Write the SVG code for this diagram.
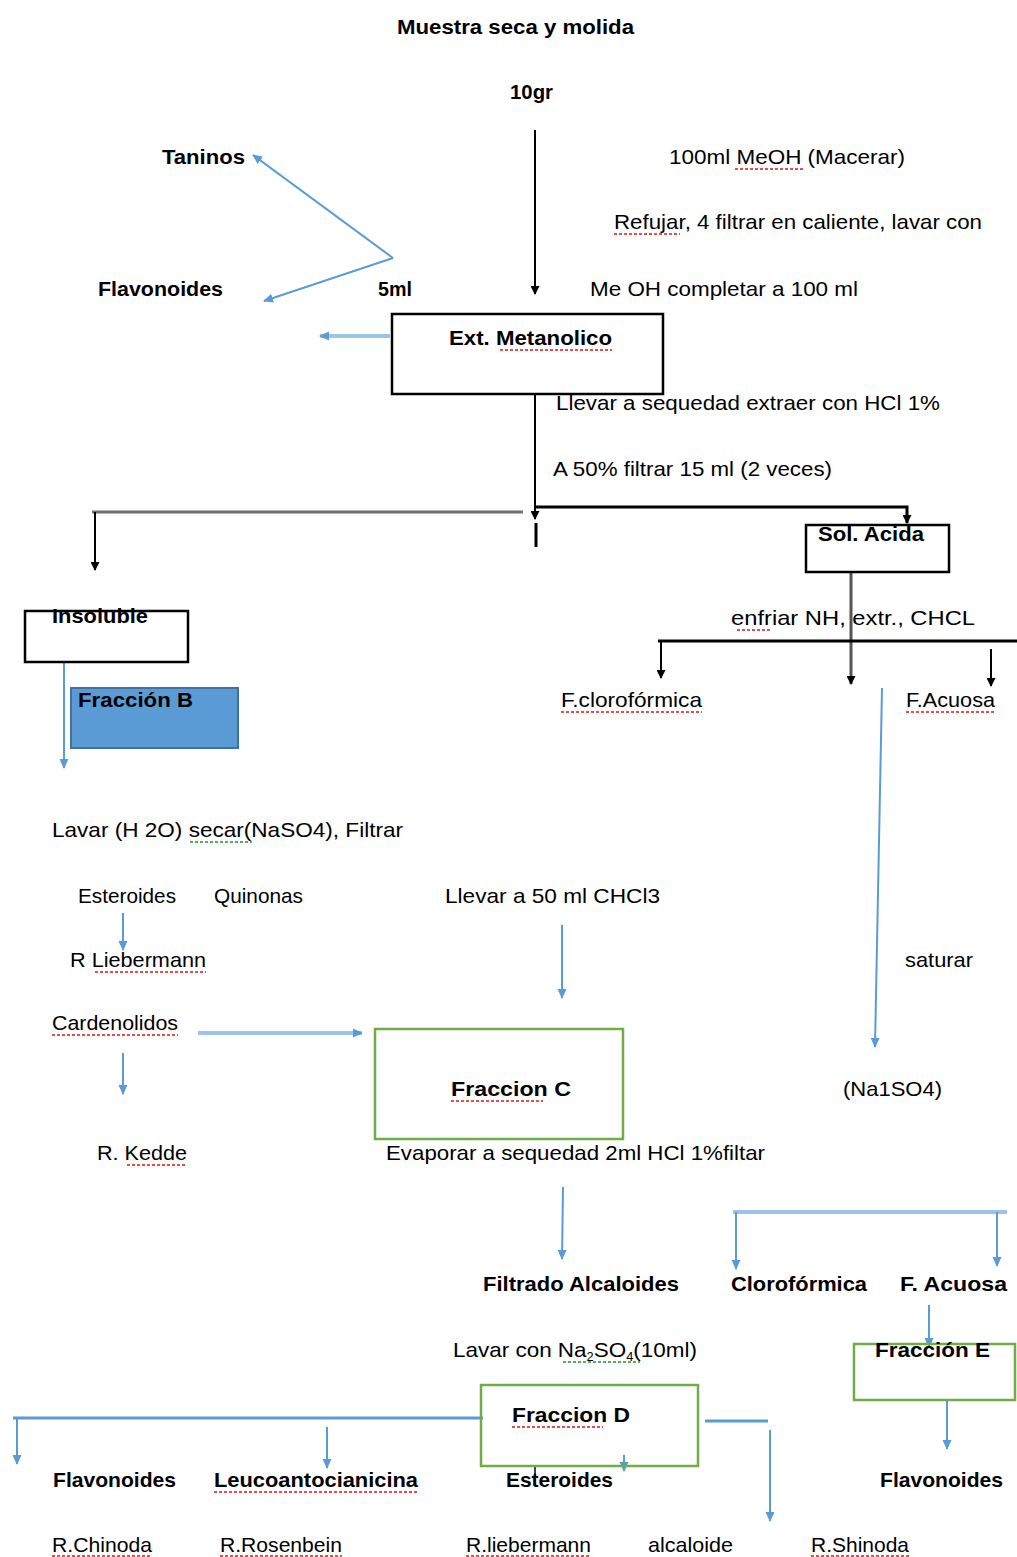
<svg xmlns="http://www.w3.org/2000/svg" width="1017" height="1557" viewBox="0 0 1017 1557">
<defs>
<marker id="ab" markerWidth="9" markerHeight="9" refX="8" refY="4.5" orient="auto" markerUnits="userSpaceOnUse"><path d="M0,0 L9,4.5 L0,9 Z" fill="#000"/></marker>
<marker id="au" markerWidth="10" markerHeight="10" refX="9" refY="5" orient="auto" markerUnits="userSpaceOnUse"><path d="M0,0.5 L10,5 L0,9.5 Z" fill="#5B9BD5"/></marker>
</defs>
<style>
text{font-family:"Liberation Sans",Arial,sans-serif;font-size:21px;fill:#000}
.bd{font-weight:bold}
.k{stroke:#000;fill:none;stroke-width:2}
.kt{stroke:#000;fill:none;stroke-width:3}
.b{stroke:#5B9BD5;fill:none;stroke-width:2}
.bt{stroke:#9DC3E6;fill:none;stroke-width:4}
.box{fill:#fff;stroke:#000;stroke-width:2.5}
.gbox{fill:none;stroke:#70AD47;stroke-width:2.5}
.sq{stroke:#E02020;stroke-width:2;fill:none;stroke-dasharray:3 2;opacity:.8}
.sg{stroke:#2E9A2E;stroke-width:2;fill:none;stroke-dasharray:3 2;opacity:.8}
</style>
<rect width="1017" height="1557" fill="#fff"/>

<g id="connectors">
<line class="k" x1="535" y1="130" x2="535" y2="294" marker-end="url(#ab)"/>
<line class="b" x1="393" y1="258" x2="253" y2="155" marker-end="url(#au)"/>
<line class="b" x1="393" y1="258" x2="264" y2="301" marker-end="url(#au)"/>
<line class="bt" x1="390" y1="336" x2="320" y2="336" marker-end="url(#au)"/>
<line class="k" x1="535" y1="394" x2="535" y2="519" marker-end="url(#ab)"/>
<line x1="536" y1="523" x2="536" y2="547" stroke="#000" stroke-width="3"/>
<line x1="92" y1="512" x2="523" y2="512" stroke="#707070" stroke-width="3"/>
<line class="k" x1="95" y1="512" x2="95" y2="570" marker-end="url(#ab)"/>
<polyline class="kt" points="535,507 907,507 907,523" marker-end="url(#ab)"/>
<line x1="851" y1="561" x2="851" y2="684" stroke="#555" stroke-width="3" marker-end="url(#ab)"/>
<line class="kt" x1="658" y1="641" x2="1017" y2="641"/>
<line class="k" x1="661" y1="641" x2="661" y2="678" marker-end="url(#ab)"/>
<line class="k" x1="991" y1="649" x2="991" y2="686" marker-end="url(#ab)"/>
<line class="b" x1="64" y1="658" x2="64" y2="768" marker-end="url(#au)"/>
<line class="b" x1="882" y1="688" x2="875" y2="1047" marker-end="url(#au)"/>
<line class="b" x1="123" y1="913" x2="123" y2="950" marker-end="url(#au)"/>
<line class="b" x1="562" y1="925" x2="562" y2="998" marker-end="url(#au)"/>
<line class="bt" x1="198" y1="1033" x2="362" y2="1033" marker-end="url(#au)"/>
<line class="b" x1="123" y1="1053" x2="123" y2="1094" marker-end="url(#au)"/>
<line class="b" x1="563" y1="1187" x2="562" y2="1259" marker-end="url(#au)"/>
<line x1="733" y1="1212" x2="1007" y2="1212" stroke="#9DC3E6" stroke-width="4"/>
<line class="b" x1="736" y1="1212" x2="736" y2="1269" marker-end="url(#au)"/>
<line class="b" x1="997" y1="1212" x2="997" y2="1266" marker-end="url(#au)"/>
<line class="b" x1="929" y1="1305" x2="929" y2="1347" marker-end="url(#au)"/>
<line class="b" x1="947" y1="1400" x2="947" y2="1449" marker-end="url(#au)"/>
<line x1="13" y1="1418" x2="483" y2="1418" stroke="#5B9BD5" stroke-width="3"/>
<line class="b" x1="17" y1="1418" x2="17" y2="1464" marker-end="url(#au)"/>
<line class="b" x1="327" y1="1427" x2="327" y2="1468" marker-end="url(#au)"/>
<line class="b" x1="624" y1="1455" x2="624" y2="1471" marker-end="url(#au)"/>
<line x1="535" y1="1466" x2="535" y2="1476" stroke="#000" stroke-width="1.5"/>
<line x1="705" y1="1421" x2="768" y2="1421" stroke="#5B9BD5" stroke-width="3"/>
<line class="b" x1="770" y1="1430" x2="770" y2="1521" marker-end="url(#au)"/>
</g>

<g id="n-muestra"><text class="bd" x="397" y="34" textLength="237" lengthAdjust="spacingAndGlyphs">Muestra  seca  y  molida</text></g>
<g id="n-10gr"><text class="bd" x="510" y="99" textLength="43" lengthAdjust="spacingAndGlyphs">10gr</text></g>
<g id="n-taninos"><text class="bd" x="162" y="164" textLength="83" lengthAdjust="spacingAndGlyphs">Taninos</text></g>
<g id="l-meoh"><text x="669" y="164" textLength="236" lengthAdjust="spacingAndGlyphs">100ml  MeOH  (Macerar)</text></g>
<g id="l-refujar"><text x="614" y="229" textLength="368" lengthAdjust="spacingAndGlyphs">Refujar, 4  filtrar  en  caliente,  lavar  con</text></g>
<g id="n-flavonoides1"><text class="bd" x="98" y="296" textLength="125" lengthAdjust="spacingAndGlyphs">Flavonoides</text></g>
<g id="l-5ml"><text class="bd" x="378" y="296" textLength="34" lengthAdjust="spacingAndGlyphs">5ml</text></g>
<g id="l-completar"><text x="590" y="296" textLength="268" lengthAdjust="spacingAndGlyphs">Me OH  completar  a  100  ml</text></g>
<g id="n-ext"><rect class="box" x="392" y="314" width="271" height="80"/><text class="bd" x="449" y="345" textLength="163" lengthAdjust="spacingAndGlyphs">Ext.  Metanolico</text></g>
<g id="l-llevar"><text x="556" y="410" textLength="384" lengthAdjust="spacingAndGlyphs">Llevar  a  sequedad  extraer  con  HCl  1%</text></g>
<g id="l-a50"><text x="553" y="476" textLength="279" lengthAdjust="spacingAndGlyphs">A 50%  filtrar  15  ml  (2  veces)</text></g>
<g id="n-sol"><rect class="box" x="806" y="525" width="143" height="47"/><text class="bd" x="818" y="541" textLength="106" lengthAdjust="spacingAndGlyphs">Sol.  Acida</text></g>
<g id="n-insoluble"><rect class="box" x="25" y="611" width="163" height="51"/><text class="bd" x="52" y="623" textLength="96" lengthAdjust="spacingAndGlyphs">Insoluble</text></g>
<g id="n-fraccionB"><rect x="71" y="688" width="167" height="60" fill="#5B9BD5" stroke="#41719C" stroke-width="2"/><text class="bd" x="78" y="707" textLength="115" lengthAdjust="spacingAndGlyphs">Fracción  B</text></g>
<g id="l-enfriar"><text x="731" y="625" textLength="244" lengthAdjust="spacingAndGlyphs">enfriar  NH,  extr.,  CHCL</text></g>
<g id="n-fcloro"><text x="561" y="707" textLength="141" lengthAdjust="spacingAndGlyphs">F.clorofórmica</text></g>
<g id="n-facuosa1"><text x="906" y="707" textLength="89" lengthAdjust="spacingAndGlyphs">F.Acuosa</text></g>
<g id="l-lavar"><text x="52" y="837" textLength="351" lengthAdjust="spacingAndGlyphs">Lavar  (H 2O)  secar(NaSO4),  Filtrar</text></g>
<g id="n-esteroides1"><text x="78" y="903" textLength="98" lengthAdjust="spacingAndGlyphs">Esteroides</text></g>
<g id="n-quinonas"><text x="214" y="903" textLength="89" lengthAdjust="spacingAndGlyphs">Quinonas</text></g>
<g id="l-llevar50"><text x="445" y="903" textLength="215" lengthAdjust="spacingAndGlyphs">Llevar  a  50  ml  CHCl3</text></g>
<g id="n-rlieb1"><text x="70" y="967" textLength="136" lengthAdjust="spacingAndGlyphs">R  Liebermann</text></g>
<g id="l-saturar"><text x="905" y="967" textLength="68" lengthAdjust="spacingAndGlyphs">saturar</text></g>
<g id="n-cardenolidos"><text x="52" y="1030" textLength="126" lengthAdjust="spacingAndGlyphs">Cardenolidos</text></g>
<g id="n-fraccionC"><rect class="gbox" x="375" y="1029" width="248" height="110"/><text class="bd" x="451" y="1096" textLength="120" lengthAdjust="spacingAndGlyphs">Fraccion  C</text></g>
<g id="n-na1so4"><text x="843" y="1096" textLength="99" lengthAdjust="spacingAndGlyphs">(Na1SO4)</text></g>
<g id="n-rkedde"><text x="97" y="1160" textLength="90" lengthAdjust="spacingAndGlyphs">R.  Kedde</text></g>
<g id="l-evaporar"><text x="386" y="1160" textLength="379" lengthAdjust="spacingAndGlyphs">Evaporar  a  sequedad   2ml  HCl  1%filtar</text></g>
<g id="n-filtrado"><text class="bd" x="483" y="1291" textLength="196" lengthAdjust="spacingAndGlyphs">Filtrado  Alcaloides</text></g>
<g id="n-cloroformica"><text class="bd" x="731" y="1291" textLength="136" lengthAdjust="spacingAndGlyphs">Clorofórmica</text></g>
<g id="n-facuosa2"><text class="bd" x="900" y="1291" textLength="107" lengthAdjust="spacingAndGlyphs">F.  Acuosa</text></g>
<g id="l-lavarcon"><text x="453" y="1357" textLength="244" lengthAdjust="spacingAndGlyphs">Lavar  con  Na<tspan font-size="12" dy="4">2</tspan><tspan dy="-4">SO</tspan><tspan font-size="12" dy="4">4</tspan><tspan dy="-4">(10ml)</tspan></text></g>
<g id="n-fraccionE"><rect class="gbox" x="854" y="1344" width="161" height="56"/><text class="bd" x="875" y="1357" textLength="115" lengthAdjust="spacingAndGlyphs">Fracción  E</text></g>
<g id="n-fraccionD"><rect class="gbox" x="481" y="1385" width="217" height="81"/><text class="bd" x="512" y="1422" textLength="118" lengthAdjust="spacingAndGlyphs">Fraccion  D</text></g>
<g id="n-flavonoides2"><text class="bd" x="53" y="1487" textLength="123" lengthAdjust="spacingAndGlyphs">Flavonoides</text></g>
<g id="n-leuco"><text class="bd" x="214" y="1487" textLength="204" lengthAdjust="spacingAndGlyphs">Leucoantocianicina</text></g>
<g id="n-esteroides2"><text class="bd" x="506" y="1487" textLength="107" lengthAdjust="spacingAndGlyphs">Esteroides</text></g>
<g id="n-flavonoides3"><text class="bd" x="880" y="1487" textLength="123" lengthAdjust="spacingAndGlyphs">Flavonoides</text></g>
<g id="n-rchinoda"><text x="52" y="1552" textLength="100" lengthAdjust="spacingAndGlyphs">R.Chinoda</text></g>
<g id="n-rrosenbein"><text x="220" y="1552" textLength="122" lengthAdjust="spacingAndGlyphs">R.Rosenbein</text></g>
<g id="n-rlieb2"><text x="466" y="1552" textLength="125" lengthAdjust="spacingAndGlyphs">R.liebermann</text></g>
<g id="n-alcaloide"><text x="648" y="1552" textLength="85" lengthAdjust="spacingAndGlyphs">alcaloide</text></g>
<g id="n-rshinoda"><text x="811" y="1552" textLength="98" lengthAdjust="spacingAndGlyphs">R.Shinoda</text></g>

<g id="spellcheck">
<line class="sq" x1="735" y1="169" x2="803" y2="169"/>
<line class="sq" x1="614" y1="234" x2="680" y2="234"/>
<line class="sq" x1="500" y1="350" x2="612" y2="350"/>
<line class="sq" x1="737" y1="630" x2="770" y2="630"/>
<line class="sq" x1="561" y1="712" x2="702" y2="712"/>
<line class="sq" x1="906" y1="712" x2="995" y2="712"/>
<line class="sg" x1="190" y1="842" x2="252" y2="842"/>
<line class="sq" x1="95" y1="972" x2="206" y2="972"/>
<line class="sq" x1="52" y1="1035" x2="178" y2="1035"/>
<line class="sq" x1="451" y1="1101" x2="543" y2="1101"/>
<line class="sq" x1="127" y1="1165" x2="187" y2="1165"/>
<line class="sg" x1="563" y1="1362" x2="640" y2="1362"/>
<line class="sq" x1="512" y1="1427" x2="603" y2="1427"/>
<line class="sq" x1="214" y1="1492" x2="418" y2="1492"/>
<line class="sq" x1="52" y1="1556" x2="152" y2="1556"/>
<line class="sq" x1="220" y1="1556" x2="342" y2="1556"/>
<line class="sq" x1="466" y1="1556" x2="591" y2="1556"/>
<line class="sq" x1="811" y1="1556" x2="909" y2="1556"/>
</g>
</svg>
